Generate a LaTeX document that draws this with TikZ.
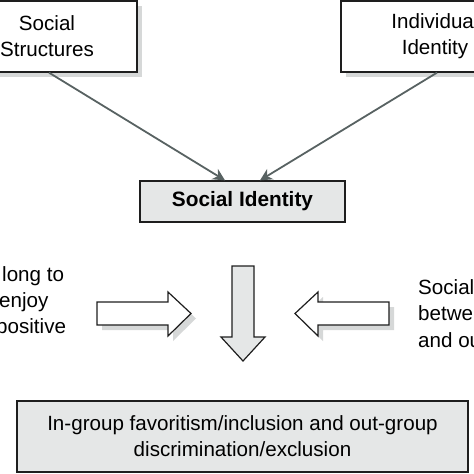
\documentclass[tikz,border=0pt]{standalone}
\usepackage{fontspec}
\setmainfont{Liberation Sans}
\usetikzlibrary{calc,shadows,arrows.meta}
\definecolor{lightfill}{RGB}{229,231,231}
\definecolor{conncol}{RGB}{88,98,98}
\definecolor{shadowcol}{RGB}{214,216,216}
\definecolor{edgecol}{RGB}{30,30,30}
\begin{document}
\begin{tikzpicture}[x=1pt,y=-1pt,
  boxstyle/.style={draw=edgecol, line width=1.3pt, align=center, inner sep=0pt,
    font=\fontsize{20.6}{26}\selectfont},
  topbox/.style={boxstyle, fill=white,
    general shadow={fill=shadowcol, shadow xshift=5pt, shadow yshift=-5pt}},
  graybox/.style={boxstyle, fill=lightfill},
  conn/.style={draw=conncol, line width=1.8pt, -{Stealth[length=12pt,width=12pt]}},
  blockarrow/.style={draw=edgecol, line width=1.2pt, line join=miter},
  blockshadow/.style={fill=shadowcol, draw=none},
  fragtext/.style={font=\fontsize{20.6}{26}\selectfont, inner sep=0pt}
]
\useasboundingbox (0,0) rectangle (474,474);
\clip (0,0) rectangle (474,474);

% top boxes
\node[topbox, minimum width=180pt, minimum height=71pt] (ss) at (47,36.5) {Social\\Structures};
\node[topbox, minimum width=188pt, minimum height=71pt] (ii) at (435,36.5) {Individual\\Identity};

% social identity box
\node[graybox, minimum width=205pt, minimum height=41pt, font=\fontsize{20.8}{26}\selectfont\bfseries] (si) at (242.5,201.5) {Social Identity};

% connectors
\coordinate (siL) at ($(si.north)+(-17.5,0)$);
\coordinate (siR) at ($(si.north)+(17.5,0)$);
\draw[conn] ($(ss.south)+(2,0)$) -- (siL);
\draw[conn] ($(ii.south)+(2,0)$) -- (siR);

% block arrows shadows
\fill[blockshadow] (102,307) -- (173,307) -- (173,297) -- (196,318.5) -- (173,341) -- (173,330) -- (102,330) -- cycle;
\fill[blockshadow] (394,307) -- (323,307) -- (323,297) -- (300,318.5) -- (323,341) -- (323,330) -- (394,330) -- cycle;

% block arrows
\draw[blockarrow, fill=white] (97,302) -- (168,302) -- (168,292) -- (191,313.5) -- (168,336) -- (168,325) -- (97,325) -- cycle;
\draw[blockarrow, fill=white] (389,302) -- (318,302) -- (318,292) -- (295,313.5) -- (318,336) -- (318,325) -- (389,325) -- cycle;
\draw[blockarrow, fill=lightfill] (232,266) -- (254,266) -- (254,337) -- (265,337) -- (243,361) -- (221,337) -- (232,337) -- cycle;

% side text fragments
\node[fragtext, anchor=base west] (l1) at (2,281) {long to};
\node[fragtext, anchor=base west] (l2) at (-1,307) {enjoy};
\node[fragtext, anchor=base west] (l3) at (-4,333) {positive};
\node[fragtext, anchor=base west] (r1) at (418,294) {Social};
\node[fragtext, anchor=base west] (r2) at (418,320.5) {betwe};
\node[fragtext, anchor=base west] (r3) at (418,347) {and ou};

% bottom box
\node[graybox, minimum width=451pt, minimum height=71pt] (res) at (242.5,436.5) {In-group favoritism/inclusion and out-group\\discrimination/exclusion};
\end{tikzpicture}
\end{document}
